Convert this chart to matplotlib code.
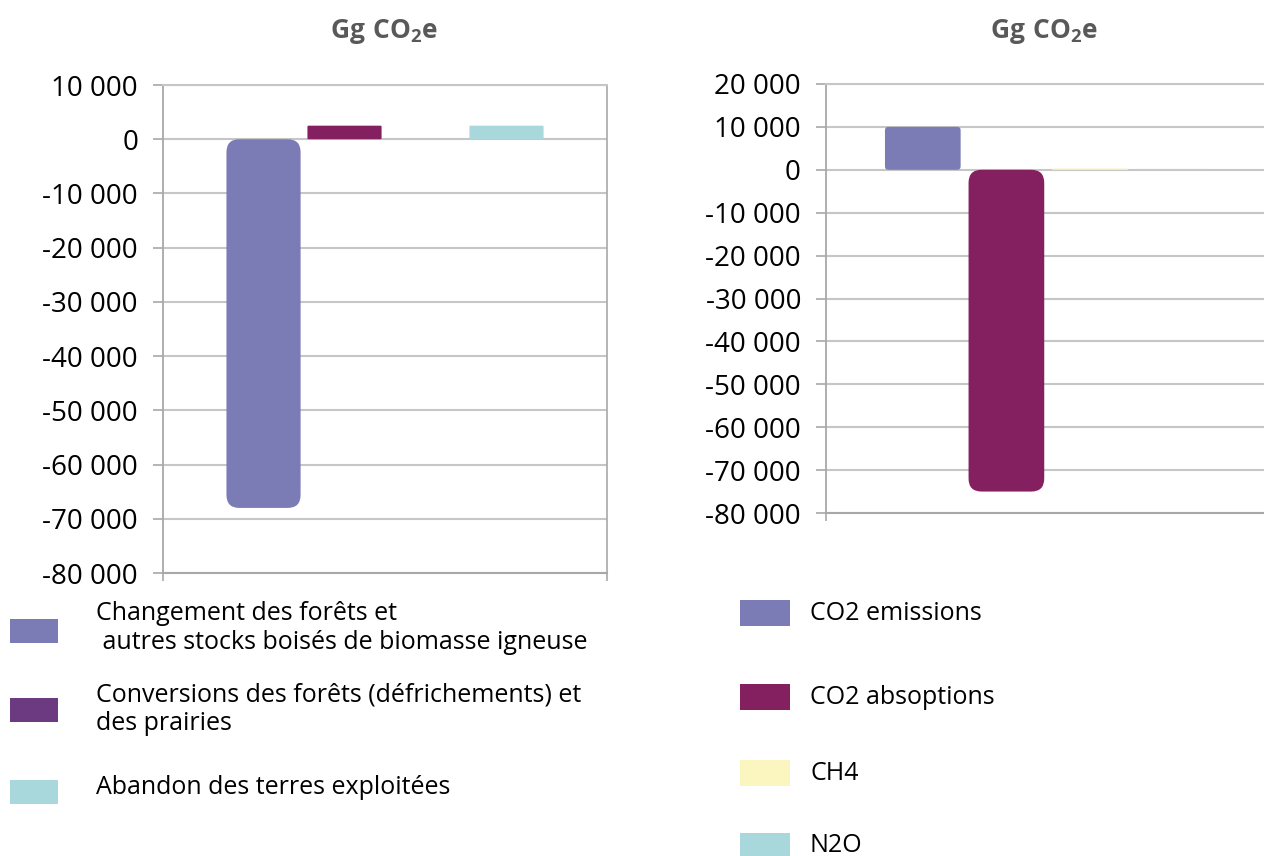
import matplotlib
matplotlib.use("Agg")
import matplotlib.pyplot as plt
from matplotlib.patches import FancyBboxPatch, Rectangle
from matplotlib.ticker import FuncFormatter

# ---- data -------------------------------------------------------------
left_labels = [
    "Changement des forêts et\n autres stocks boisés de biomasse igneuse",
    "Conversions des forêts (défrichements) et\ndes prairies",
    "Abandon des terres exploitées",
]
left_values = [-68000, 2500, 2500]
left_slots = [0, 1, 3]          # slot of each series inside the 4-slot group
left_bar_colors = ["#7b7cb6", "#84205f", "#a8d8dc"]
left_legend_colors = ["#7b7cb6", "#6b3a80", "#a8d8dc"]
left_ticks = list(range(-80000, 10001, 10000))

right_labels = ["CO2 emissions", "CO2 absoptions", "CH4", "N2O"]
right_values = [10000, -75000, 300, 200]
right_colors = ["#7b7cb6", "#84205f", "#fbf5c0", "#a8d8dc"]
right_ticks = list(range(-80000, 20001, 10000))

title_text = r"$\mathbf{Gg\ CO_2e}$"

# ---- style ------------------------------------------------------------
plt.rcParams["font.family"] = ["Open Sans", "DejaVu Sans"]
plt.rcParams["mathtext.fontset"] = "custom"
plt.rcParams["mathtext.rm"] = "Open Sans"
plt.rcParams["mathtext.bf"] = "Open Sans:bold"
plt.rcParams["axes.unicode_minus"] = False

GRID = "#c6c6c6"
AXIS = "#a8a8a8"
W, H = 1264, 856
fig = plt.figure(figsize=(W / 100, H / 100), dpi=100)


def px_axes(x0, y0, x1, y1):
    return fig.add_axes([x0 / W, 1 - y1 / H, (x1 - x0) / W, (y1 - y0) / H])


def fmt(v, _pos):
    return f"{v:,.0f}".replace(",", " ")


def style_axes(ax, ticks, right_edge=True):
    ax.set_ylim(ticks[0], ticks[-1])
    ax.set_xlim(0, 1)
    ax.set_yticks(ticks)
    ax.yaxis.set_major_formatter(FuncFormatter(fmt))
    ax.set_xticks([0, 1])
    ax.tick_params(axis="x", labelbottom=False, length=6, width=1.2,
                   color=AXIS, direction="out")
    ax.tick_params(axis="y", length=7, width=1.2, color=AXIS, pad=11,
                   labelsize=20, labelcolor="black")
    ax.grid(axis="y", color=GRID, lw=1.5, zorder=0)
    ax.set_axisbelow(True)
    ax.spines["left"].set_color(AXIS)
    ax.spines["left"].set_linewidth(1.3)
    ax.spines["bottom"].set_color(AXIS)
    ax.spines["bottom"].set_linewidth(1.5)
    ax.spines["top"].set_color(GRID)
    ax.spines["top"].set_linewidth(1.5)
    ax.spines["right"].set_color(AXIS)
    ax.spines["right"].set_linewidth(1.2)
    ax.spines["right"].set_visible(right_edge)


def round_bars(ax, bars, max_r=13.0, frac=0.08):
    """Swap the plain rectangles of a bar container for rounded ones."""
    for rect in bars:
        x, y = rect.get_xy()
        w, h = rect.get_width(), rect.get_height()
        p0 = ax.transData.transform((x, y))
        p1 = ax.transData.transform((x + w, y + h))
        wpx, hpx = abs(p1[0] - p0[0]), abs(p1[1] - p0[1])
        if hpx <= 0:
            continue
        xu = w / wpx
        yu = abs(h) / hpx
        r_px = min(max_r, frac * hpx)
        patch = FancyBboxPatch(
            (x, min(y, y + h)), w, abs(h),
            boxstyle=f"round,pad=0,rounding_size={r_px * xu}",
            mutation_aspect=yu / xu,
            fc=rect.get_facecolor(), ec="none", zorder=3,
        )
        rect.set_visible(False)
        ax.add_patch(patch)


# ---- left panel -------------------------------------------------------
axL = px_axes(163, 85, 607, 573)
style_axes(axL, left_ticks, right_edge=True)
slot = 0.1824
pos_l = [0.5 + (s - 1.5) * slot for s in left_slots]
barsL = axL.bar(pos_l, left_values, width=0.167, color=left_bar_colors, zorder=3)
round_bars(axL, barsL)

# ---- right panel ------------------------------------------------------
axR = px_axes(826, 84, 1266, 513)
style_axes(axR, right_ticks, right_edge=False)
slot_r = 0.19
pos_r = [0.505 + (i - 1.5) * slot_r for i in range(len(right_values))]
barsR = axR.bar(pos_r, right_values, width=0.172, color=right_colors, zorder=3)
round_bars(axR, barsR)

# ---- titles -----------------------------------------------------------
fig.text(384 / W, 1 - 31 / H, title_text, ha="center", va="center",
         fontsize=19, color="#595959")
fig.text(1044 / W, 1 - 31 / H, title_text, ha="center", va="center",
         fontsize=19, color="#595959")

# ---- legends ----------------------------------------------------------
def legend_entry(x, yc, w, h, color, text, tx, tyc):
    fig.add_artist(Rectangle((x / W, 1 - (yc + h / 2) / H), w / W, h / H,
                             transform=fig.transFigure, fc=color, ec="none"))
    fig.text(tx / W, 1 - tyc / H, text, ha="left", va="center",
             fontsize=18, color="black", linespacing=1.2)


left_patch_y = [631, 710, 792]
left_text_y = [628, 709, 788]
for c, lab, py, ty in zip(left_legend_colors, left_labels, left_patch_y, left_text_y):
    legend_entry(10, py, 48, 24, c, lab, 96, ty)

right_patch_y = [613, 697, 773, 846]
for c, lab, py in zip(right_colors, right_labels, right_patch_y):
    legend_entry(740, py, 50, 26, c, lab, 810, py)

fig.savefig("out.png", dpi=100, facecolor="white")
